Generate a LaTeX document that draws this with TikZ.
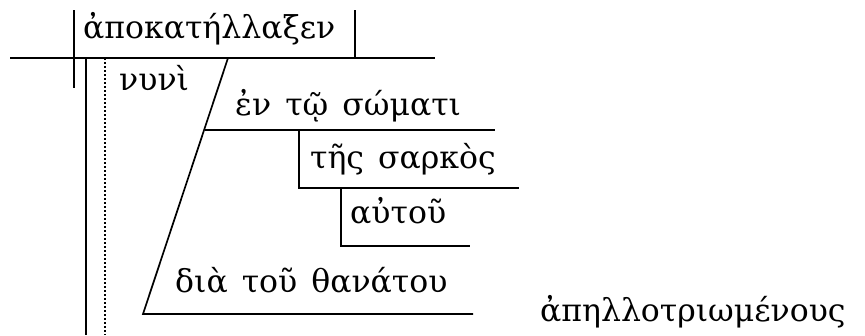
\documentclass[tikz,border=0pt]{standalone}
\usepackage{fontspec}
\newfontfamily\greekfont[WordSpace=1.4]{DejaVu Serif}
\tikzset{
  word/.style={anchor=base west, inner sep=0pt, font=\greekfont\fontsize{31.5}{36}\selectfont},
  rule/.style={line width=1.7pt},
  dotrule/.style={line width=2pt, dash pattern=on 2pt off 2pt}
}

\begin{document}
\begin{tikzpicture}[x=1pt, y=-1pt]
  \useasboundingbox (0,0) rectangle (865,335);
  % words
  \node[word] (verb) at (83,38) {ἀποκατήλλαξεν};
  \node[word] (nyni) at (119,90) {νυνὶ};
  \node[word] (soma) at (235,115) {ἐν τῷ σώματι};
  \node[word] (sarkos) at (310,168) {τῆς σαρκὸς};
  \node[word] (autou) at (350,223) {αὐτοῦ};
  \node[word] (dia) at (175,292) {διὰ τοῦ θανάτου};
  \node[word] (apell) at (540,321) {ἀπηλλοτριωμένους};
  % base line and verb dividers
  \coordinate (baseL) at (10,58);
  \coordinate (baseR) at (435,58);
  \draw[rule] (baseL) -- (baseR);
  \draw[rule] (74,10) -- (74,88);
  \draw[rule] (355,10) -- (355,58);
  \draw[rule] (86,58) -- (86,335);
  \draw[dotrule] (105,58) -- (105,335);
  % modifiers
  \coordinate (slantT) at (228,58);
  \coordinate (slantB) at (143,314);
  \draw[rule] (slantT) -- (slantB) -- (473,314);
  \draw[rule] (205,130) -- (495,130);
  \draw[rule] (299,130) -- (299,188) -- (519,188);
  \draw[rule] (341,188) -- (341,246) -- (470,246);
\end{tikzpicture}
\end{document}
